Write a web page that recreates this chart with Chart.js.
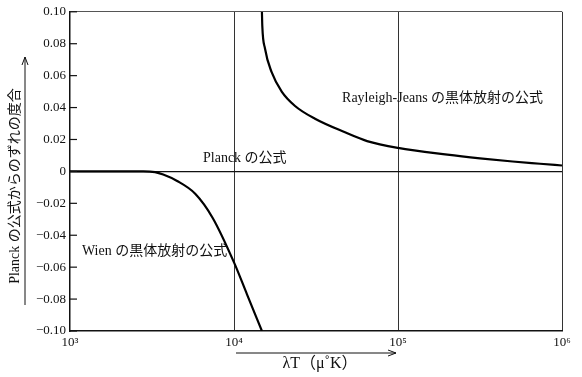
<!DOCTYPE html>
<html>
<head>
<meta charset="utf-8">
<script src="https://cdn.jsdelivr.net/npm/chart.js@4.4.0/dist/chart.umd.min.js"></script>
<style>
  html, body { margin: 0; padding: 0; background: #fff; }
  #wrap { width: 582px; height: 377px; }
</style>
</head>
<body>
<div id="wrap"><canvas id="devChart" width="582" height="377"></canvas></div>
<script>
// values
var wienX = [1000, 2000, 2800, 3300, 3700, 4500, 5800, 7400, 10000, 12000, 14800];
var wienY = [0, 0, 0, -0.0005, -0.002, -0.006, -0.014, -0.029, -0.057, -0.077, -0.10];

var rjX = [14800, 14880, 15450, 16990, 19540, 23560, 31190, 47530, 64800, 100000, 200000, 316000, 500000, 735000, 1000000];
var rjY = [0.10, 0.091, 0.077, 0.062, 0.050, 0.041, 0.033, 0.0245, 0.019, 0.0147, 0.0105, 0.0082, 0.0062, 0.0048, 0.0037];

var xTicks = [1000, 10000, 100000, 1000000];
var xTickLabels = ["10³", "10⁴", "10⁵", "10⁶"];
var yMin = -0.10, yMax = 0.10, yStep = 0.02;

var serif = "'Liberation Serif', 'Noto Sans CJK JP', serif";

function toPoints(xs, ys) {
	return xs.map(function (x, i) { return { x: x, y: ys[i] }; });
}

function yLabel(v) {
	if (Math.abs(v) < 1e-9) return "0";
	var s = Math.abs(v).toFixed(2);
	return v < 0 ? "−" + s : s;
}

// short inward ticks, titles, arrows and curve names
var extras = {
	id: "extras",
	afterDraw: function (chart) {
		var ctx = chart.ctx;
		var xs = chart.scales.x, ys = chart.scales.y;
		var area = chart.chartArea;
		ctx.save();
		ctx.strokeStyle = "#111";
		ctx.lineWidth = 1.2;
		ys.ticks.forEach(function (t) {
			var py = ys.getPixelForValue(t.value);
			ctx.beginPath();
			ctx.moveTo(area.left, py);
			ctx.lineTo(area.left + 7, py);
			ctx.stroke();
		});

		ctx.fillStyle = "#111";
		ctx.font = "14px " + serif;
		ctx.textBaseline = "middle";
		ctx.textAlign = "left";
		ctx.fillText("Planck の公式", xs.getPixelForValue(6470), ys.getPixelForValue(0.008));
		ctx.fillText("Rayleigh-Jeans の黒体放射の公式", xs.getPixelForValue(45600), ys.getPixelForValue(0.046));
		ctx.fillText("Wien の黒体放射の公式", xs.getPixelForValue(1183), ys.getPixelForValue(-0.0503));

		// x title and arrow
		var ax0 = xs.getPixelForValue(10000) + 2, ax1 = xs.getPixelForValue(100000) - 2;
		var ay = area.bottom + 22;
		ctx.lineWidth = 1;
		ctx.beginPath();
		ctx.moveTo(ax0, ay);
		ctx.lineTo(ax1, ay);
		ctx.moveTo(ax1 - 8, ay - 3);
		ctx.lineTo(ax1, ay);
		ctx.lineTo(ax1 - 8, ay + 3);
		ctx.stroke();
		ctx.font = "16px " + serif;
		ctx.textAlign = "center";
		ctx.fillText("λT（μ˚K）", (ax0 + ax1) / 2 + 4, ay + 11);

		// y title and arrow
		var lx = 25, ly0 = 305, ly1 = 57;
		ctx.beginPath();
		ctx.moveTo(lx, ly0);
		ctx.lineTo(lx, ly1);
		ctx.moveTo(lx - 3, ly1 + 8);
		ctx.lineTo(lx, ly1);
		ctx.lineTo(lx + 3, ly1 + 8);
		ctx.stroke();
		ctx.translate(15, 186);
		ctx.rotate(-Math.PI / 2);
		ctx.font = "14px " + serif;
		ctx.fillText("Planck の公式からのずれの度合", 0, 0);
		ctx.restore();
	}
};

new Chart(document.getElementById("devChart"), {
	type: "scatter",
	data: {
		datasets: [
			{
				label: "Wien",
				data: toPoints(wienX, wienY),
				showLine: true,
				borderColor: "#000",
				borderWidth: 2.2,
				pointRadius: 0,
				cubicInterpolationMode: "monotone",
			},
			{
				label: "Rayleigh-Jeans",
				data: toPoints(rjX, rjY),
				showLine: true,
				borderColor: "#000",
				borderWidth: 2.2,
				pointRadius: 0,
				cubicInterpolationMode: "monotone",
			},
		],
	},
	options: {
		responsive: false,
		animation: false,
		layout: { padding: { top: 5, right: 20, left: 0, bottom: 0 } },
		plugins: {
			legend: { display: false },
			tooltip: { enabled: false },
		},
		scales: {
			x: {
				type: "logarithmic",
				min: 1000,
				max: 1000000,
				afterBuildTicks: function (scale) {
					scale.ticks = xTicks.map(function (v) { return { value: v }; });
				},
				afterFit: function (scale) { scale.height = 46; },
				ticks: {
					autoSkip: false,
					maxRotation: 0,
					padding: 4,
					color: "#111",
					font: { family: serif, size: 13 },
					callback: function (v) {
						var i = xTicks.indexOf(v);
						return i >= 0 ? xTickLabels[i] : "";
					},
				},
				grid: {
					drawTicks: false,
					lineWidth: 1,
					color: function (c) {
						return c.tick && c.tick.value > 1000 ? "#333" : "rgba(0,0,0,0)";
					},
				},
				border: { color: "#111", width: 1.5 },
			},
			y: {
				min: yMin,
				max: yMax,
				afterFit: function (scale) { scale.width = 70; },
				ticks: {
					stepSize: yStep,
					padding: 4,
					color: "#111",
					font: { family: serif, size: 13 },
					callback: function (v) { return yLabel(v); },
				},
				grid: {
					drawTicks: false,
					lineWidth: function (c) {
						return c.tick && Math.abs(c.tick.value) < 1e-9 ? 1.3 : 1;
					},
					color: function (c) {
						if (!c.tick) return "rgba(0,0,0,0)";
						var v = c.tick.value;
						if (Math.abs(v) < 1e-9) return "#111";
						if (Math.abs(v - yMax) < 1e-9) return "#555";
						return "rgba(0,0,0,0)";
					},
				},
				border: { color: "#111", width: 1.5 },
			},
		},
	},
	plugins: [extras],
});
</script>
</body>
</html>
